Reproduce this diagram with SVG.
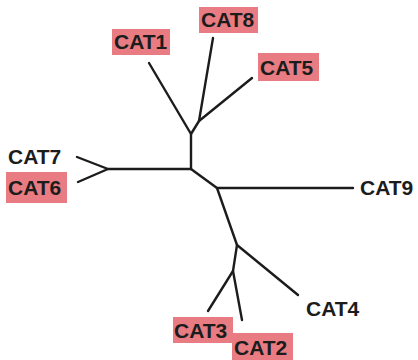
<svg xmlns="http://www.w3.org/2000/svg" width="418" height="360" viewBox="0 0 418 360">
<style>
.e{fill:none;stroke:#1c1c1c;stroke-width:2.4;stroke-linecap:round;stroke-linejoin:round}
.hl{fill:#e97c82}
.t{font-family:"Liberation Sans",Arial,sans-serif;font-weight:bold;font-size:21px;fill:#1c1c1c}
</style>
<rect width="418" height="360" fill="#ffffff"/>
<g id="connectors">
<path class="e" d="M149,63 L191,134"/>
<path class="e" d="M213,38 L199,121"/>
<path class="e" d="M252,78 L199,121 L191,134 L191,169"/>
<path class="e" d="M108,169 L191,169 L217,188 L353,188"/>
<path class="e" d="M77,157 L108,169 L78,182"/>
<path class="e" d="M217,188 L237,245 L298,295"/>
<path class="e" d="M237,245 L233,271 L208,311"/>
<path class="e" d="M233,271 L242,320"/>
</g>
<g id="CAT8"><rect class="hl" x="199" y="7" width="59" height="26"/><text class="t" x="201" y="27">CAT8</text></g>
<g id="CAT1"><rect class="hl" x="112" y="29" width="58" height="26"/><text class="t" x="114" y="49">CAT1</text></g>
<g id="CAT5"><rect class="hl" x="258" y="53" width="61" height="28"/><text class="t" x="260" y="75">CAT5</text></g>
<g id="CAT7"><text class="t" x="8" y="164">CAT7</text></g>
<g id="CAT6"><rect class="hl" x="6" y="172" width="61" height="31"/><text class="t" x="8" y="195">CAT6</text></g>
<g id="CAT9"><text class="t" x="360" y="195">CAT9</text></g>
<g id="CAT4"><text class="t" x="306" y="316">CAT4</text></g>
<g id="CAT3"><rect class="hl" x="173" y="317" width="60" height="26"/><text class="t" x="174" y="338">CAT3</text></g>
<g id="CAT2"><rect class="hl" x="232" y="333" width="61" height="27"/><text class="t" x="234" y="355">CAT2</text></g>
</svg>
